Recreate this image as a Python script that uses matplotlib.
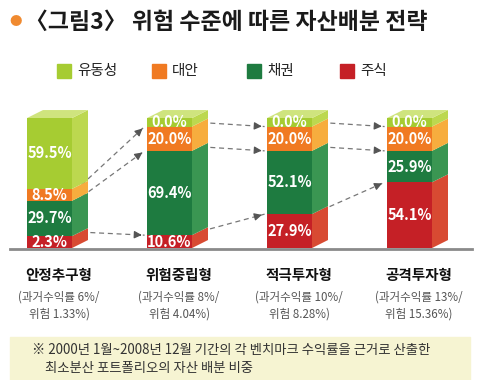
import numpy as np
import matplotlib
matplotlib.use("Agg")
import matplotlib.pyplot as plt
from matplotlib.patches import Polygon, Rectangle

plt.rcParams['font.family'] = ['Noto Sans CJK KR', 'DejaVu Sans']

# data
categories = ['안정추구형', '위험중립형', '적극투자형', '공격투자형']
sub_labels = ['(과거수익률 6%/\n위험 1.33%)', '(과거수익률 8%/\n위험 4.04%)',
              '(과거수익률 10%/\n위험 8.28%)', '(과거수익률 13%/\n위험 15.36%)']
series = ['주식', '채권', '대안', '유동성']          # bottom -> top
stocks = [2.3, 10.6, 27.9, 54.1]
bonds = [29.7, 69.4, 52.1, 25.9]
alternatives = [8.5, 20.0, 20.0, 20.0]
liquidity = [59.5, 0.0, 0.0, 0.0]

front = ['#c52026', '#1e7b40', '#f07a22', '#a6cc32']
side = ['#d84a32', '#3a9652', '#f7ad3e', '#bcd84f']
top = ['#e06a50', '#5aae6a', '#f9c46a', '#cfe47e']

vals = np.array([stocks, bonds, alternatives, liquidity])
# keep small segments visible (like the original artwork), then rescale to 100
disp = np.where(vals == 0, 7.0, np.maximum(vals, 10.0))
disp = disp / disp.sum(axis=0) * 100

fig = plt.figure(figsize=(4.8, 3.8), dpi=100)
ax = fig.add_axes([0, 0, 1, 1])
ax.set_xlim(-0.4125, 3.5875)
ax.set_ylim(-101.5, 190.8)
ax.axis('off')

x = np.arange(len(categories))
w = 0.375
dx = 16 / 120
dy = 8 / 1.3

bottoms = np.zeros(len(categories))
for s in range(len(series)):
    h = disp[s]
    ax.bar(x, h, w, bottom=bottoms, color=front[s], zorder=3)
    for i in range(len(x)):
        xr = x[i] + w / 2
        b, t = bottoms[i], bottoms[i] + h[i]
        ax.add_patch(Polygon([(xr, b), (xr + dx, b + dy), (xr + dx, t + dy), (xr, t)],
                             closed=True, color=side[s], zorder=2, lw=0))
        ax.text(x[i], b + h[i] / 2, f'{vals[s][i]:.1f}%', ha='center', va='center',
                color='white', fontsize=10.5, fontweight='bold', zorder=5)
        if s == len(series) - 1:
            xl = x[i] - w / 2
            ax.add_patch(Polygon([(xl, t), (xl + dx, t + dy), (xr + dx, t + dy), (xr, t)],
                                 closed=True, color=top[s], zorder=2, lw=0))
    bottoms = bottoms + h

# dashed arrows between bars at segment boundaries
cum = np.cumsum(disp, axis=0)
for i in range(len(x) - 1):
    for k in range(3):
        y0 = cum[k][i] + dy * 0.5
        x0 = x[i] + w / 2 + dx * 0.6
        y1 = cum[k][i + 1]
        x1 = x[i + 1] - w / 2 - 0.02
        ax.plot([x0, x1], [y0, y1], ls=(0, (4, 3)), color='#777777', lw=0.9, zorder=1)
        xm = x1 - (x1 - x0) * 0.12
        ym = y1 - (y1 - y0) * 0.12
        ax.annotate('', xy=(x1, y1), xytext=(xm, ym),
                    arrowprops=dict(arrowstyle='-|>', color='#555555', lw=0.9,
                                    mutation_scale=11), zorder=1)

# baseline
ax.plot([-0.33, 3.52], [-0.8, -0.8], color='#8a8a8a', lw=2, zorder=4)

# category labels
for i in range(len(x)):
    ax.text(x[i] + dx * 0.6, -20.5, categories[i], ha='center', va='center',
            fontsize=10.5, fontweight='bold', color='#111111')
    ax.text(x[i] + dx * 0.6, -44, sub_labels[i], ha='center', va='center',
            fontsize=8.3, color='#555555', linespacing=1.4)

# title
fig.text(16 / 480, 1 - 22 / 380, '●', color='#f08a30', fontsize=9, ha='center', va='center')
fig.text(25 / 480, 1 - 22 / 380, '〈그림3〉 위험 수준에 따른 자산배분 전략', fontsize=16.5,
         fontweight='bold', color='#1a1a1a', ha='left', va='center')

# legend
leg_x = [57, 152, 247, 340]
legend_order = [3, 2, 1, 0]
for px, s in zip(leg_x, legend_order):
    fig.patches.append(Rectangle((px / 480, 1 - 78 / 380), 14 / 480, 14 / 380,
                                 transform=fig.transFigure, color=front[s]))
    fig.text((px + 20) / 480, 1 - 71 / 380, series[s], fontsize=10.5, color='#222222',
             ha='left', va='center')

# note box
fig.patches.append(Rectangle((10 / 480, 0), 460 / 480, 43 / 380,
                             transform=fig.transFigure, color='#f6f4d2', zorder=0))
fig.text(32 / 480, 1 - 350 / 380, '※ 2000년 1월~2008년 12월 기간의 각 벤치마크 수익률을 근거로 산출한',
         fontsize=9.6, color='#333333', ha='left', va='center')
fig.text(45 / 480, 1 - 368 / 380, '최소분산 포트폴리오의 자산 배분 비중',
         fontsize=9.6, color='#333333', ha='left', va='center')

fig.savefig('out.png', dpi=100)
